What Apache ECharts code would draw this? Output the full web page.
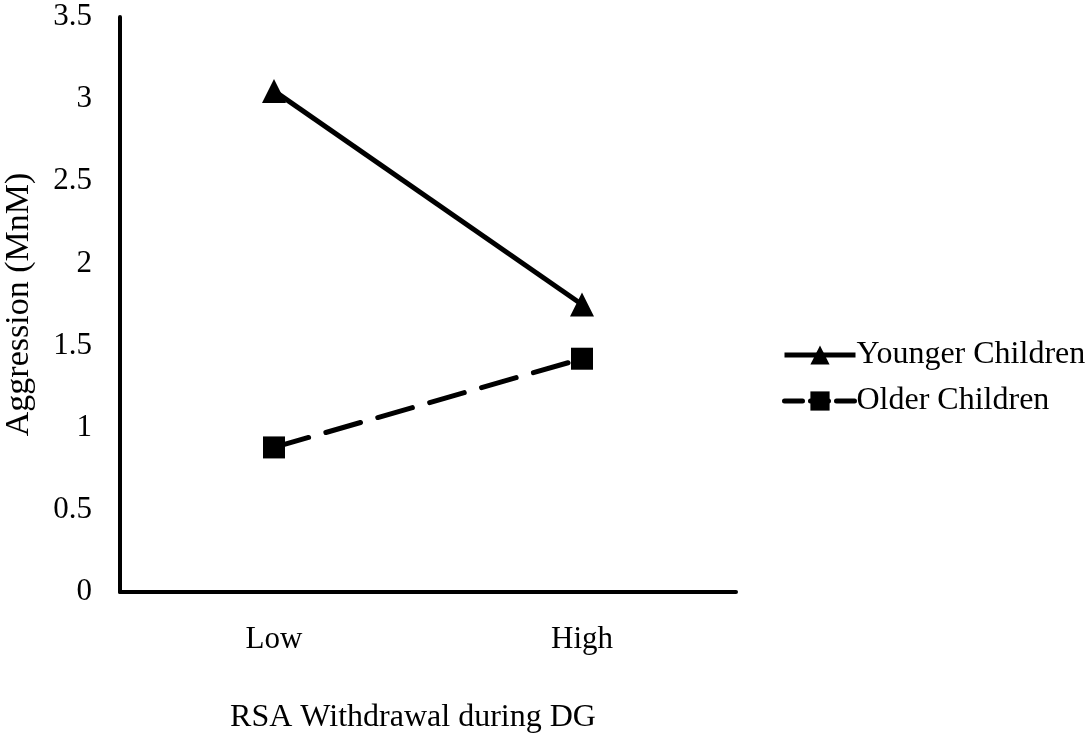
<!DOCTYPE html>
<html>
<head>
<meta charset="utf-8">
<script src="https://cdn.jsdelivr.net/npm/echarts@6/dist/echarts.min.js"></script>
<style>
html,body{margin:0;padding:0;background:#fff;}
#main{width:1086px;height:735px;}
</style>
</head>
<body>
<div id="main"></div>
<script>
var categories = ['Low', 'High'];
var youngerChildren = [3.05, 1.75];
var olderChildren = [0.88, 1.42];
var yTicks = { min: 0, max: 3.5, interval: 0.5 };

var FONT = '"Liberation Serif", "Times New Roman", serif';
var chart = echarts.init(document.getElementById('main'));
chart.setOption({
  backgroundColor: '#fff',
  animation: false,
  textStyle: { fontFamily: FONT, color: '#000' },
  grid: { left: 120, right: 350, top: 17, bottom: 143, containLabel: false, outerBoundsMode: 'none' },
  xAxis: {
    type: 'category',
    data: categories,
    boundaryGap: true,
    axisLine: { lineStyle: { color: '#000', width: 4 } },
    axisTick: { show: false },
    axisLabel: { color: '#000', fontFamily: FONT, fontSize: 31, margin: 32 },
    name: 'RSA Withdrawal during DG',
    nameLocation: 'middle',
    nameGap: 110,
    nameTextStyle: { color: '#000', fontFamily: FONT, fontSize: 32, padding: [0, 30, 0, 0] }
  },
  yAxis: {
    type: 'value',
    min: yTicks.min,
    max: yTicks.max,
    interval: yTicks.interval,
    axisLine: { show: true, lineStyle: { color: '#000', width: 4 } },
    axisTick: { show: false },
    splitLine: { show: false },
    axisLabel: { color: '#000', fontFamily: FONT, fontSize: 31, margin: 28 },
    name: 'Aggression (MnM)',
    nameLocation: 'middle',
    nameGap: 84,
    nameTextStyle: { color: '#000', fontFamily: FONT, fontSize: 34 }
  },
  legend: {
    orient: 'vertical',
    left: 777,
    top: 334,
    itemWidth: 71,
    itemHeight: 24,
    itemGap: 14,
    textStyle: { color: '#000', fontFamily: FONT, fontSize: 32, padding: [0, 0, 0, -4] },
    lineStyle: { width: 5, color: '#000' },
    data: [
      { name: 'Younger Children' },
      { name: 'Older Children', lineStyle: { width: 5, type: [18, 8], cap: 'round' } }
    ]
  },
  series: [
    {
      name: 'Younger Children',
      type: 'line',
      data: youngerChildren,
      symbol: 'triangle',
      symbolSize: [24, 24],
      lineStyle: { color: '#000', width: 5 },
      itemStyle: { color: '#000' }
    },
    {
      name: 'Older Children',
      type: 'line',
      data: olderChildren,
      symbol: 'rect',
      symbolSize: 22,
      lineStyle: { color: '#000', width: 5, type: [36, 18], cap: 'round' },
      itemStyle: { color: '#000' }
    }
  ]
});
</script>
</body>
</html>
